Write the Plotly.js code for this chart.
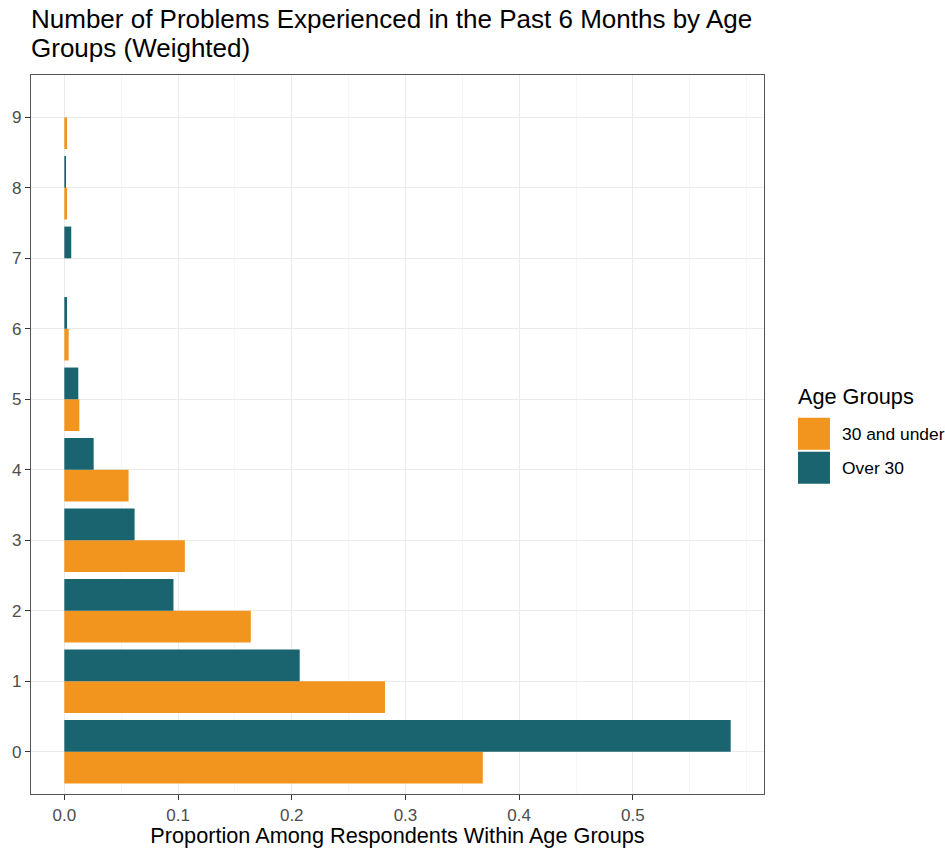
<!DOCTYPE html>
<html>
<head>
<meta charset="utf-8">
<script src="https://cdn.plot.ly/plotly-3.0.1.min.js"></script>
<style>html,body{margin:0;padding:0;background:#fff;}#chart{width:945px;height:848px;}</style>
</head>
<body>
<div id="chart"></div>
<script>
// ---- data ----
var problems = [0, 1, 2, 3, 4, 5, 6, 7, 8, 9];
var under30 = [0.368, 0.282, 0.164, 0.106, 0.0565, 0.0132, 0.0038, 0, 0.0024, 0.0024];
var over30  = [0.586, 0.207, 0.096, 0.0618, 0.0258, 0.0123, 0.0024, 0.0061, 0.0015, 0];
var groupNames = ["30 and under", "Over 30"];
var groupColors = ["#F2951F", "#19646F"];
var xTickVals = [0, 0.1, 0.2, 0.3, 0.4, 0.5];
var xTickText = ["0.0", "0.1", "0.2", "0.3", "0.4", "0.5"];
var xMinorVals = [0.05, 0.15, 0.25, 0.35, 0.45, 0.55, 0.6];
var titleLines = ["Number of Problems Experienced in the Past 6 Months by Age", "Groups (Weighted)"];
var xTitle = "Proportion Among Respondents Within Age Groups";
var legendTitle = "Age Groups";

// ---- geometry (pixels) ----
var W = 945, H = 848;
var L = 30.7, R = 764, T = 75, B = 794.5;
function px(x){ return (x - L) / (R - L); }
function py(y){ return (B - y) / (B - T); }

var font = "Liberation Sans, Arial, Helvetica, sans-serif";
var fsTick = 17, fsAxis = 21.7, fsTitle = 26;

var traces = [
  {type: "bar", orientation: "h", name: groupNames[0], y: problems, x: under30,
   marker: {color: groupColors[0], line: {width: 0}}, showlegend: false},
  {type: "bar", orientation: "h", name: groupNames[1], y: problems, x: over30,
   marker: {color: groupColors[1], line: {width: 0}}, showlegend: false}
];

var maxv = Math.max.apply(null, over30.concat(under30));
var pad = maxv * 0.05;

var shapes = [], annotations = [];
// title lines
var titleBase = [28, 57];
for (var k = 0; k < titleLines.length; k++) {
  annotations.push({xref: "paper", yref: "paper", x: px(29), y: py(titleBase[k] - 0.36 * fsTitle),
    xanchor: "left", yanchor: "middle", showarrow: false, text: titleLines[k],
    font: {family: font, size: fsTitle, color: "#000"}});
}
// legend keys
var keyX0 = 798, keyX1 = 830;
var keyY = [[418, 450], [452, 484]];
for (var i = 0; i < groupNames.length; i++) {
  shapes.push({type: "rect", xref: "paper", yref: "paper",
    x0: px(keyX0), x1: px(keyX1), y0: py(keyY[i][1]), y1: py(keyY[i][0]),
    fillcolor: groupColors[i], line: {width: 0}, layer: "above"});
  annotations.push({xref: "paper", yref: "paper", x: px(840), y: py((keyY[i][0] + keyY[i][1]) / 2),
    xanchor: "left", yanchor: "middle", showarrow: false, text: groupNames[i],
    font: {family: font, size: 17.4, color: "#000"}});
}
annotations.push({xref: "paper", yref: "paper", x: px(796), y: py(397), xanchor: "left", yanchor: "middle",
  showarrow: false, text: legendTitle, font: {family: font, size: fsAxis, color: "#000"}});

var layout = {
  width: W, height: H,
  paper_bgcolor: "#fff", plot_bgcolor: "#fff",
  margin: {l: L, r: W - R, t: T, b: H - B, pad: 0},
  font: {family: font},
  barmode: "group", bargap: 0.1, bargroupgap: 0,
  xaxis: {range: [-pad, maxv + pad], tickmode: "array", tickvals: xTickVals, ticktext: xTickText,
    showgrid: true, gridcolor: "#EBEBEB", gridwidth: 1, zeroline: false,
    minor: {tickmode: "array", tickvals: xMinorVals, showgrid: true, gridcolor: "#F0F0F0", gridwidth: 0.6, ticks: ""},
    ticks: "outside", ticklen: 5, tickwidth: 1, tickcolor: "#333",
    tickfont: {family: font, size: fsTick, color: "#4D4D4D"},
    showline: true, linecolor: "#555", linewidth: 1.2, mirror: true,
    title: {text: xTitle, font: {family: font, size: fsAxis, color: "#000"}, standoff: 6},
    automargin: false, fixedrange: true},
  yaxis: {range: [-0.6, 9.6], tickmode: "array", tickvals: problems, ticktext: problems.map(String),
    showgrid: true, gridcolor: "#EBEBEB", gridwidth: 1, zeroline: false,
    ticks: "outside", ticklen: 5, tickwidth: 1, tickcolor: "#333",
    tickfont: {family: font, size: fsTick, color: "#4D4D4D"},
    showline: true, linecolor: "#555", linewidth: 1.2, mirror: true,
    automargin: false, fixedrange: true},
  shapes: shapes, annotations: annotations
};

Plotly.newPlot("chart", traces, layout, {displayModeBar: false, staticPlot: true});
</script>
</body>
</html>
